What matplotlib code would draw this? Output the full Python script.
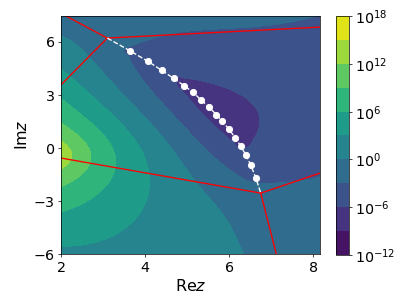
import numpy as np
import matplotlib
matplotlib.use("Agg")
import matplotlib.pyplot as plt

# zeros of the function (white dots)
zero_re = [3.64, 4.07, 4.40, 4.68, 4.92, 5.14, 5.33, 5.52, 5.69, 5.84,
           5.99, 6.14, 6.27, 6.39, 6.51, 6.63]
zero_im = [5.49, 4.89, 4.38, 3.93, 3.53, 3.15, 2.71, 2.31, 1.89, 1.50,
           1.07, 0.59, 0.12, -0.37, -0.95, -1.67]

# turning points (where the red lines meet)
turn_re = [3.10, 6.75]
turn_im = [6.21, -2.55]

# red lines: (x0, y0, x1, y1)
red_lines = [
    (3.10, 6.21, 2.11, 7.47),
    (3.10, 6.21, 2.00, 3.57),
    (3.10, 6.21, 8.16, 6.83),
    (6.75, -2.55, 2.00, -0.57),
    (6.75, -2.55, 8.16, -1.42),
    (6.75, -2.55, 7.12, -6.00),
]

# points on the contour boundaries: x, y, log10 value
lev_x = [2.0, 2.21, 2.0,
         2.0, 2.71, 2.0,
         2.0, 3.32, 3.29, 2.0,
         2.0, 3.97, 4.07, 3.18, 2.0,
         2.0, 2.93, 3.9, 4.85, 4.95, 5.5, 5.75, 6.11, 6.51,
         3.57, 3.61, 3.76, 4.41, 5.1, 5.9, 6.4, 6.62, 4.95, 6.5, 8.12, 6.9, 7.33, 8.12,
         4.65, 5.19, 6.14, 6.97, 6.93, 6.55, 6.41]
lev_y = [0.84, 0.15, -0.33,
         1.98, 0.0, -2.2,
         2.7, -0.1, -0.85, -3.5,
         3.7, 0.08, -1.8, -4.62, -5.38,
         6.85, 3.45, 1.6, -0.1, -1.14, -2.9, -3.6, -4.62, -6.0,
         5.74, 4.98, 4.25, 2.72, 1.0, -0.87, -1.95, -2.27, 6.58, 6.78, 6.96, -1.85, -1.6, -1.25,
         4.23, 4.13, 3.57, 1.69, 1.0, -0.2, -0.48]
lev_v = [12] * 3 + [9] * 3 + [6] * 4 + [3] * 5 + [0] * 9 + [-3] * 14 + [-6] * 7

# a few points inside the bands (band middle, estimated)
mid_x = [2.05, 2.0, 2.0, 2.0, 2.0, 2.0, 2.0, 2.0, 2.0,
         7.8, 8.0, 6.5, 7.8, 8.05, 4.5, 5.0, 3.0, 7.5, 7.2, 8.0, 2.5, 3.0, 6.0, 5.5]
mid_y = [0.25, -1.2, 1.4, 2.35, -2.9, 3.2, -4.4, 5.2, -6.0,
         3.0, 5.5, 5.0, 0.0, 2.0, -5.0, -4.5, -5.5, -4.0, -5.0, -3.0, 7.2, 5.0, 7.3, 6.0]
mid_v = [13.5, 10.5, 10.5, 7.5, 7.5, 4.5, 4.5, 1.5, 3.5,
         -4.5, -4.2, -4.5, -4.3, -4.8, 1.5, 1.5, 2.5, -1.5, -1.2, -2.0, -1.0, -1.5, -2.5, -4.0]

# a log pole just left of the frame
pole = 1.4 - 0.4j

levels = np.arange(-12, 19, 3)
cbar_ticks = [-12, -6, 0, 6, 12, 18]


def zero_part(x, y):
    z = x + 1j * y
    out = np.zeros_like(x, dtype=float)
    for a, b in zip(zero_re, zero_im):
        out += np.log10(np.abs(z - (a + 1j * b)))
    return out


def basis(x, y, deg=4):
    z = x + 1j * y
    w = (z - (5.0 + 0.75j)) / 4.0
    cols = [np.ones_like(x, dtype=float), np.log10(np.abs(z - pole))]
    for n in range(1, deg + 1):
        cols.append((w ** n).real)
        cols.append((w ** n).imag)
    return np.stack(cols, axis=-1)


px = np.array(lev_x + mid_x)
py = np.array(lev_y + mid_y)
rhs = np.array(lev_v + mid_v, dtype=float) - zero_part(px, py)
coef, *_ = np.linalg.lstsq(basis(px, py), rhs, rcond=None)

xs = np.linspace(2.0, 8.157, 500)
ys = np.linspace(-6.0, 7.47, 500)
X, Y = np.meshgrid(xs, ys)
U = zero_part(X, Y) + basis(X, Y) @ coef
U = np.clip(U, -11.99, 17.99)

fig = plt.figure(figsize=(6.4, 4.8), dpi=64)
ax = fig.add_axes([0.149, 0.172, 0.632, 0.776])
cax = fig.add_axes([0.821, 0.170, 0.030, 0.777])

cs = ax.contourf(X, Y, U, levels=levels, cmap="viridis")

for x0, y0, x1, y1 in red_lines:
    ax.plot([x0, x1], [y0, y1], color="red", lw=1.5)

path_x = [turn_re[0]] + zero_re + [turn_re[1]]
path_y = [turn_im[0]] + zero_im + [turn_im[1]]
ax.plot(path_x, path_y, color="white", ls="--", lw=1.5)
ax.plot(zero_re, zero_im, "o", color="white", ms=7)

ax.set_xlim(2.0, 8.157)
ax.set_ylim(-6.0, 7.47)
ax.set_xticks([2, 4, 6, 8])
ax.set_yticks([-6, -3, 0, 3, 6])
ax.tick_params(labelsize=16)
ax.set_xlabel(r"Re$z$", fontsize=18)
ax.set_ylabel(r"Im$z$", fontsize=18)

cb = fig.colorbar(cs, cax=cax, ticks=cbar_ticks)
cb.set_ticklabels([r"$10^{%d}$" % t for t in cbar_ticks])
cb.ax.tick_params(labelsize=16)

fig.savefig("out.png", dpi=64)
